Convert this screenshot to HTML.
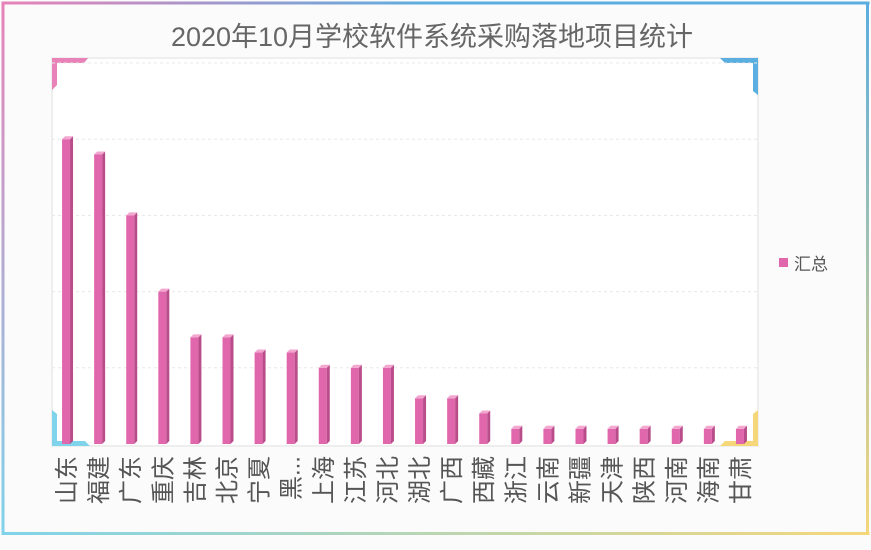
<!DOCTYPE html>
<html><head><meta charset="utf-8"><style>
body{margin:0;width:871px;height:550px;overflow:hidden;background:#fff;font-family:"Liberation Sans","Noto Sans CJK SC",sans-serif}
</style></head><body>
<svg width="871" height="550" style="position:absolute;left:0;top:0">
<defs>
<linearGradient id="bt" x1="0" y1="0" x2="1" y2="0"><stop offset="0" stop-color="#e882b8"/><stop offset="0.5" stop-color="#5aaee0"/><stop offset="1" stop-color="#5aaee0"/></linearGradient>
<linearGradient id="bb" x1="0" y1="0" x2="1" y2="0"><stop offset="0" stop-color="#7fd3ea"/><stop offset="1" stop-color="#f5d77a"/></linearGradient>
<linearGradient id="bl" x1="0" y1="0" x2="0" y2="1"><stop offset="0" stop-color="#e882b8"/><stop offset="1" stop-color="#7fd3ea"/></linearGradient>
<linearGradient id="br" x1="0" y1="0" x2="0" y2="1"><stop offset="0" stop-color="#5aaee0"/><stop offset="1" stop-color="#f5d77a"/></linearGradient>
</defs>
<rect x="0" y="0" width="871" height="550" fill="#fbfbfb"/>
<rect x="1.5" y="1.5" width="868" height="3" fill="url(#bt)"/>
<rect x="1.5" y="532" width="868" height="3" fill="url(#bb)"/>
<rect x="1.5" y="1.5" width="3" height="533" fill="url(#bl)"/>
<rect x="866" y="1.5" width="3" height="533" fill="url(#br)"/>
<text x="432" y="46" text-anchor="middle" font-size="27" fill="#666">2020年10月学校软件系统采购落地项目统计</text>
<rect x="52" y="58" width="706" height="388" fill="#fff" stroke="#eee" stroke-width="2"/>
<path d="M52 58 H88 L84 63 H57 V85 L52 90 Z" fill="#e882b8"/>
<path d="M758 58 V95 L753 91 V63 H725 L720 58 Z" fill="#5aaee0"/>
<path d="M52 446 V410 L57 414 V441 H85 L90 446 Z" fill="#7fd3ea"/>
<path d="M758 446 V410 L753 414 V441 H725 L720 446 Z" fill="#f5d77a"/>
<g id="grid"></g>
<g id="bars"></g>
<g id="labels"></g>
<rect x="779" y="258" width="9" height="9" fill="#e067ac"/>
<text x="794" y="270" font-size="17" fill="#555">汇总</text>
</svg>
<script>
const categories=["山东","福建","广东","重庆","吉林","北京","宁夏","黑...","上海","江苏","河北","湖北","广西","西藏","浙江","云南","新疆","天津","陕西","河南","海南","甘肃"];
const values=[20,19,15,10,7,7,6,6,5,5,5,3,3,2,1,1,1,1,1,1,1,1];
const yTicks=[0,5,10,15,20,25];
const NS="http://www.w3.org/2000/svg";
const x0=52,x1=758,yb=444,yt=63,ymax=25;
const step=(x1-x0)/categories.length;
const y=v=>yb-(yb-yt)*v/ymax;
const xc=i=>x0+step*i+step/2;
const grid=document.getElementById('grid'),bars=document.getElementById('bars'),labels=document.getElementById('labels');
yTicks.forEach(t=>{if(t===0)return;const l=document.createElementNS(NS,'line');


l.setAttribute('x1',x0);l.setAttribute('x2',x1);l.setAttribute('y1',y(t));l.setAttribute('y2',y(t));l.setAttribute('stroke','#e8e8e8');l.setAttribute('stroke-dasharray','3,3');grid.appendChild(l);});
categories.forEach((c,i)=>{
const cx=xc(i)-2,top=y(values[i]),w=8;
const g=document.createElementNS(NS,'g');


const f=document.createElementNS(NS,'rect');f.setAttribute('x',cx-w/2);f.setAttribute('y',top);f.setAttribute('width',w);f.setAttribute('height',yb-top);f.setAttribute('fill','#e067ac');g.appendChild(f);
const s=document.createElementNS(NS,'path');s.setAttribute('d',`M${cx+w/2} ${top} l3 -3 V${yb-3} l-3 3 Z`);s.setAttribute('fill','#b94d8a');g.appendChild(s);
const tp=document.createElementNS(NS,'path');tp.setAttribute('d',`M${cx-w/2} ${top} l3 -3 h${w} l-3 3 Z`);tp.setAttribute('fill','#f3a6cf');g.appendChild(tp);
bars.appendChild(g);
const t=document.createElementNS(NS,'text');


const lx=xc(i)+7,ly=456;
t.setAttribute('x',lx);t.setAttribute('y',ly);t.setAttribute('text-anchor','end');t.setAttribute('font-size','24');t.setAttribute('fill','#555');
t.setAttribute('transform',`rotate(-90 ${lx} ${ly})`);t.textContent=c;labels.appendChild(t);
});
</script>
</body></html>
